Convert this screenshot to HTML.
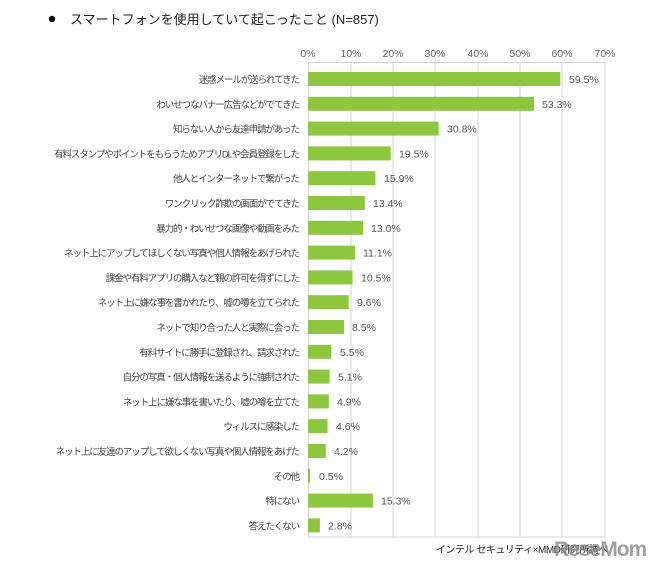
<!DOCTYPE html>
<html><head><meta charset="utf-8"><style>
body{margin:0;background:#fff}
svg{display:block;font-family:"Liberation Sans","Noto Sans CJK JP",sans-serif}
.l{font-size:9.5px;fill:#444;text-anchor:end;letter-spacing:-1.1px}
.v{font-size:10.5px;fill:#555}
.t{font-size:10.5px;fill:#666;text-anchor:middle}
</style></head><body>
<svg width="661" height="570" viewBox="0 0 661 570">
<circle cx="52" cy="19" r="3.2" fill="#111"/>
<text x="70" y="24" font-size="13" fill="#222">スマートフォンを使用していて起こったこと (N=857)</text>
<g class="t">
<text x="308" y="57">0%</text><text x="351" y="57">10%</text><text x="393" y="57">20%</text><text x="435" y="57">30%</text><text x="478" y="57">40%</text><text x="520" y="57">50%</text><text x="562" y="57">60%</text><text x="605" y="57">70%</text>
</g>
<g stroke="#d4d4d4" stroke-width="1">
<line x1="351" y1="62" x2="351" y2="537"/><line x1="393" y1="62" x2="393" y2="537"/><line x1="435" y1="62" x2="435" y2="537"/><line x1="478" y1="62" x2="478" y2="537"/><line x1="520" y1="62" x2="520" y2="537"/><line x1="562" y1="62" x2="562" y2="537"/>
<rect x="308.5" y="62.5" width="296.5" height="474.5" fill="none"/>
</g>
<g fill="#8dc63f">
<rect x="308" y="72" width="252.3" height="14"/>
<rect x="308" y="96.8" width="226" height="14"/>
<rect x="308" y="121.6" width="130.6" height="14"/>
<rect x="308" y="146.4" width="82.7" height="14"/>
<rect x="308" y="171.2" width="67.4" height="14"/>
<rect x="308" y="196" width="56.8" height="14"/>
<rect x="308" y="220.8" width="55.1" height="14"/>
<rect x="308" y="245.6" width="47.1" height="14"/>
<rect x="308" y="270.4" width="44.5" height="14"/>
<rect x="308" y="295.2" width="40.7" height="14"/>
<rect x="308" y="320" width="36" height="14"/>
<rect x="308" y="344.8" width="23.3" height="14"/>
<rect x="308" y="369.6" width="21.6" height="14"/>
<rect x="308" y="394.4" width="20.8" height="14"/>
<rect x="308" y="419.2" width="19.5" height="14"/>
<rect x="308" y="444" width="17.8" height="14"/>
<rect x="308" y="468.8" width="2.1" height="14"/>
<rect x="308" y="493.6" width="64.9" height="14"/>
<rect x="308" y="518.4" width="11.9" height="14"/>
</g>
<g class="l">
<text x="299" y="83">迷惑メールが送られてきた</text>
<text x="299" y="107.8">わいせつなバナー広告などがでてきた</text>
<text x="299" y="132.6">知らない人から友達申請があった</text>
<text x="299" y="157.4">有料スタンプやポイントをもらうためアプリDLや会員登録をした</text>
<text x="299" y="182.2">他人とインターネットで繋がった</text>
<text x="299" y="207">ワンクリック詐欺の画面がでてきた</text>
<text x="299" y="231.8">暴力的・わいせつな画像や動画をみた</text>
<text x="299" y="256.6">ネット上にアップしてほしくない写真や個人情報をあげられた</text>
<text x="299" y="281.4">課金や有料アプリの購入など親の許可を得ずにした</text>
<text x="299" y="306.2">ネット上に嫌な事を書かれたり、嘘の噂を立てられた</text>
<text x="299" y="331">ネットで知り合った人と実際に会った</text>
<text x="299" y="355.8">有料サイトに勝手に登録され、請求された</text>
<text x="299" y="380.6">自分の写真・個人情報を送るように強制された</text>
<text x="299" y="405.4">ネット上に嫌な事を書いたり、嘘の噂を立てた</text>
<text x="299" y="430.2">ウィルスに感染した</text>
<text x="299" y="455">ネット上に友達のアップして欲しくない写真や個人情報をあげた</text>
<text x="299" y="479.8">その他</text>
<text x="299" y="504.6">特にない</text>
<text x="299" y="529.4">答えたくない</text>
</g>
<g class="v">
<text x="569" y="83">59.5%</text>
<text x="542" y="107.8">53.3%</text>
<text x="447" y="132.6">30.8%</text>
<text x="399" y="157.4">19.5%</text>
<text x="384" y="182.2">15.9%</text>
<text x="373" y="207">13.4%</text>
<text x="371" y="231.8">13.0%</text>
<text x="363" y="256.6">11.1%</text>
<text x="361" y="281.4">10.5%</text>
<text x="357" y="306.2">9.6%</text>
<text x="352" y="331">8.5%</text>
<text x="340" y="355.8">5.5%</text>
<text x="338" y="380.6">5.1%</text>
<text x="337" y="405.4">4.9%</text>
<text x="336" y="430.2">4.6%</text>
<text x="334" y="455">4.2%</text>
<text x="319" y="479.8">0.5%</text>
<text x="381" y="504.6">15.3%</text>
<text x="328" y="529.4">2.8%</text>
</g>
<text x="436" y="553" font-size="10" fill="#222" letter-spacing="-0.5">インテル セキュリティ×MMD研究所調べ</text>
<text x="554" y="556" font-size="21" font-weight="bold" fill="#888" opacity="0.8" letter-spacing="-1">ResеMom</text>
</svg>
</body></html>
